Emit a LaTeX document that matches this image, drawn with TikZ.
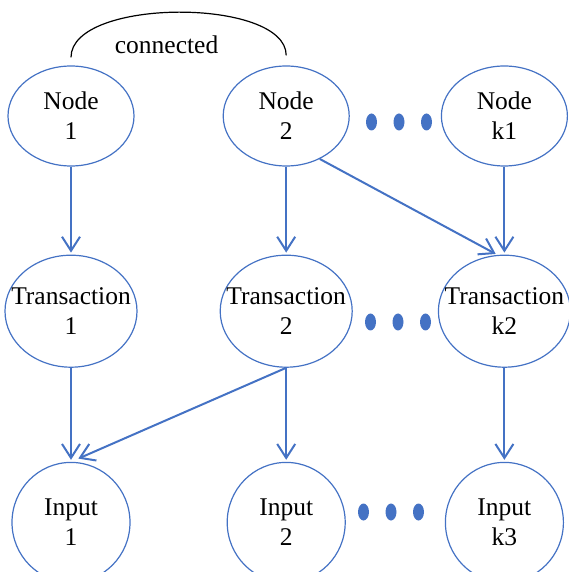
\documentclass[tikz,border=0pt]{standalone}
\usepackage{fontspec}
\setmainfont{Liberation Serif}
\usetikzlibrary{arrows.meta,positioning,shapes.geometric}
\definecolor{linkblue}{RGB}{68,114,196}

\begin{document}
\begin{tikzpicture}[
    > = {Straight Barb[length=7pt,width=9pt]}, % arrow head style
    shorten > = 1pt, % don't touch arrow head to node
    node distance = 44pt, % distance between nodes
    font = \fontsize{12.75}{15}\selectfont
    ]

    \tikzset{
    entity/.style = {ellipse, draw = linkblue, line width = 0.6pt,
        inner xsep = -12pt, inner ysep = 0pt, align = center},
    peer/.style = {entity, minimum width = 63pt, minimum height = 50pt},
    txn/.style = {entity, minimum width = 66pt, minimum height = 56pt},
    utxo/.style = {entity, minimum width = 59pt, minimum height = 60pt},
    link/.style = {->, color = linkblue, line width = 1pt}
    }
    \useasboundingbox (-35.5pt,58pt) rectangle (248.5pt,-228pt);

    \node[peer] (n1) {Node\\1};
    \node[peer] (n2) [right=of n1] {Node\\2};
    \node[peer] (nk1) [right=45.5pt of n2] {Node\\k1};
    \node[txn] (t1) [below=of n1] {Transaction\\1};
    \node[txn] (t2) [below=of n2] {Transaction\\2};
    \node[txn] (tk2) [below=of nk1] {Transaction\\k2};
    \node[utxo] (i1) [below=47pt of t1] {Input\\1};
    \node[utxo] (i2) [below=47pt of t2] {Input\\2};
    \node[utxo] (ik3) [below=47pt of tk2] {Input\\k3};

    % the three dots between columns
    \foreach \cx/\cy in {164pt/-3pt, 163.5pt/-103pt, 160pt/-198pt}
        \foreach \i in {-1,0,1}
            \fill[linkblue, xshift=\i*13.75pt] (\cx,\cy) ellipse [x radius=2.75pt, y radius=4.25pt];

    \draw[black, line width=0.6pt] ([yshift=4pt]n1.north) .. controls +(0,30pt) and +(0,30pt) .. ([yshift=4pt]n2.north)
        node[pos=0.5, below=8pt, xshift=-6pt] {connected};

    \path[link] (n1) edge (t1);
    \path[link] (n2) edge (t2);
    \path[link] (n2.-52) edge (tk2.97);
    \path[link] (nk1) edge (tk2);
    \path[link] (t1) edge (i1);
    \path[link] (t2.south) edge[shorten >=4pt] (i1.north);
    \path[link] (t2) edge (i2);
    \path[link] (tk2) edge (ik3);
\end{tikzpicture}
\end{document}
